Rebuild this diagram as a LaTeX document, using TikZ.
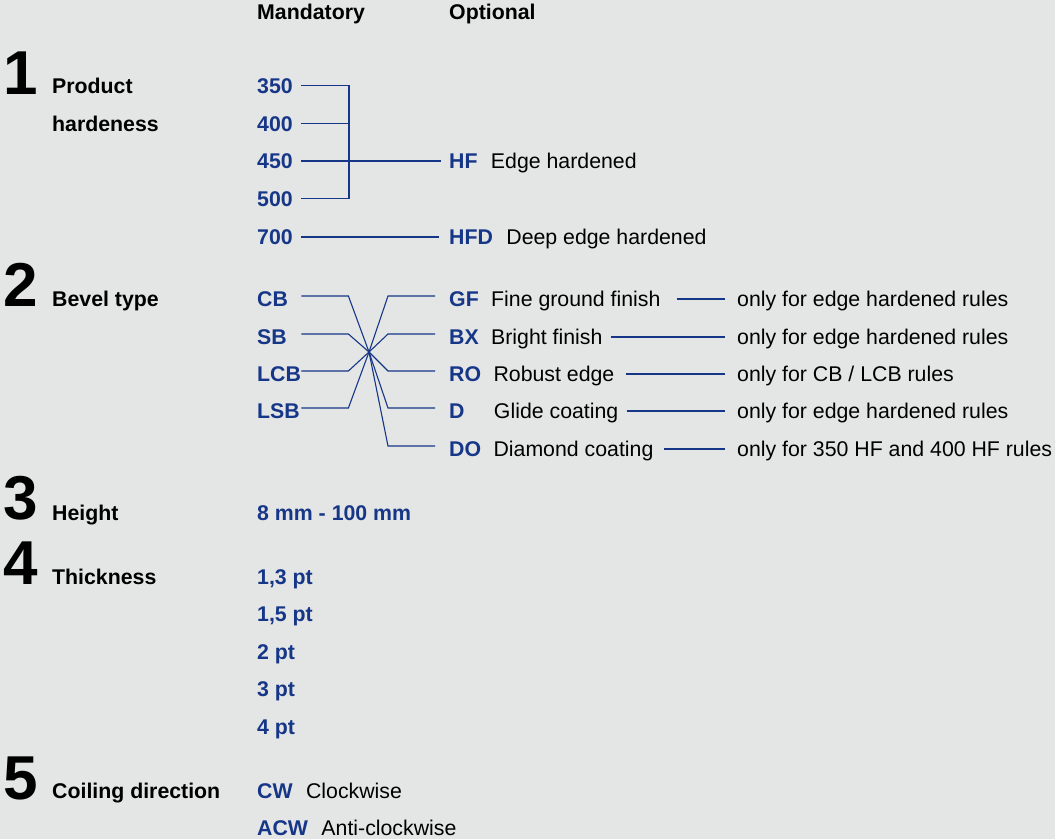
\documentclass[tikz,border=0pt]{standalone}
\usepackage{fontspec}
\setmainfont{Liberation Sans}
\usetikzlibrary{positioning}
\definecolor{rulerblue}{RGB}{22,54,136}
\definecolor{paper}{RGB}{228,229,229}

\begin{document}
\begin{tikzpicture}[x=1pt,y=-1pt,
  txt/.style={anchor=base west,inner sep=0pt,text height=15pt,text depth=0pt,font=\fontsize{21.3}{25}\selectfont},
  num/.style={anchor=base west,inner sep=0pt,font=\fontsize{62}{62}\selectfont\bfseries},
  lab/.style={txt,font=\fontsize{21.3}{25}\selectfont\bfseries},
  mand/.style={lab,text=rulerblue,text width=44pt,align=left},
  opt/.style={lab,text=rulerblue},
  desc/.style={txt},
  tall/.style={text height=21pt},
  link/.style={draw=rulerblue,line width=1.1pt}]
  \fill[paper] (0,0) rectangle (1055,839);
  \useasboundingbox (0,0) rectangle (1055,839);

  \node[lab] (mandhead) at (257,19) {Mandatory};
  \node[lab] (opthead)  at (449,19) {Optional};

  % 1 product hardness
  \node[num] (n1) at (3,94) {1};
  \node[lab] (hard1) at (52,93)  {Product};
  \node[lab] (hard2) at (52,131) {hardeness};
  \node[mand] (m350) at (257,93)    {350};
  \node[mand] (m400) at (257,131)   {400};
  \node[mand] (m450) at (257,168.5) {450};
  \node[mand] (m500) at (257,206)   {500};
  \node[mand] (m700) at (257,244.5) {700};
  \node[opt] (hf)  at (449,168.5) {HF};
  \node[desc,base right=13pt of hf] (hftext) {Edge hardened};
  \node[opt] (hfd) at (449,244.5) {HFD};
  \node[desc,base right=13pt of hfd] (hfdtext) {Deep edge hardened};
  \coordinate (hj) at (349,161);
  \draw[link] (m350.east) -| (hj) |- (m500.east);
  \draw[link] (m400.east) -- (m400.east -| hj);
  \draw[link,shorten >=8pt] (m450.east) -- (hf.west);
  \draw[link,shorten >=10pt] (m700.east) -- (hfd.west);

  % 2 bevel type
  \node[num] (n2) at (3,306) {2};
  \node[lab] (bevel) at (52,306.5) {Bevel type};
  \node[mand,tall] (cb)  at (257,306.5) {CB};
  \node[mand,tall] (sb)  at (257,344.5) {SB};
  \node[mand,tall] (lcb) at (257,381.5) {LCB};
  \node[mand,tall] (lsb) at (257,418.5) {LSB};
  \node[opt,tall] (gf) at (449,306.5) {GF};
  \node[opt,tall] (bx) at (449,344.5) {BX};
  \node[opt,tall] (ro) at (449,381.5) {RO};
  \node[opt,tall] (gc) at (449,418.5) {D};
  \node[opt,tall] (dc) at (449,456.5) {DO};
  \node[desc,base right=12pt of gf] (gftext) {Fine ground finish};
  \node[desc,base right=12pt of bx] (bxtext) {Bright finish};
  \node[desc,base right=12pt of ro] (rotext) {Robust edge};
  \node[desc,base right=29pt of gc] (gctext) {Glide coating};
  \node[desc,base right=12pt of dc] (dctext) {Diamond coating};
  \node[desc] (gfnote) at (737,306.5) {only for edge hardened rules};
  \node[desc] (bxnote) at (737,344.5) {only for edge hardened rules};
  \node[desc] (ronote) at (737,381.5) {only for CB / LCB rules};
  \node[desc] (gcnote) at (737,418.5) {only for edge hardened rules};
  \node[desc] (dcnote) at (737,456.5) {only for 350 HF and 400 HF rules};
  \coordinate (cross) at (369,352);
  \draw[link] (cb.east)  -- ++(47,0) -- (cross);
  \draw[link] (sb.east)  -- ++(47,0) -- (cross);
  \draw[link] (lcb.east) -- ++(47,0) -- (cross);
  \draw[link] (lsb.east) -- ++(47,0) -- (cross);
  \draw[link,shorten >=14pt] (cross) -- ([xshift=-61pt]gf.west) -- (gf.west);
  \draw[link,shorten >=14pt] (cross) -- ([xshift=-61pt]bx.west) -- (bx.west);
  \draw[link,shorten >=14pt] (cross) -- ([xshift=-61pt]ro.west) -- (ro.west);
  \draw[link,shorten >=14pt] (cross) -- ([xshift=-61pt]gc.west) -- (gc.west);
  \draw[link,shorten >=14pt] (cross) -- ([xshift=-61pt]dc.west) -- (dc.west);
  \draw[link,shorten <=16pt,shorten >=12pt] (gftext.east) -- (gfnote.west);
  \draw[link,shorten <=8pt,shorten >=12pt] (bxtext.east) -- (bxnote.west);
  \draw[link,shorten <=11pt,shorten >=12pt] (rotext.east) -- (ronote.west);
  \draw[link,shorten <=8pt,shorten >=12pt] (gctext.east) -- (gcnote.west);
  \draw[link,shorten <=10pt,shorten >=12pt] (dctext.east) -- (dcnote.west);

  % 3 height
  \node[num] (n3) at (3,519) {3};
  \node[lab] (height) at (52,520) {Height};
  \node[opt] (hrange) at (257,520) {8 mm - 100 mm};

  % 4 thickness
  \node[num] (n4) at (3,584) {4};
  \node[lab] (thick) at (52,584) {Thickness};
  \node[opt] (t13) at (257,584)   {1,3 pt};
  \node[opt] (t15) at (257,621.5) {1,5 pt};
  \node[opt] (t2)  at (257,659)   {2 pt};
  \node[opt] (t3)  at (257,696.5) {3 pt};
  \node[opt] (t4)  at (257,734)   {4 pt};

  % 5 coiling direction
  \node[num] (n5) at (3,799) {5};
  \node[lab] (coil) at (52,798) {Coiling direction};
  \node[opt] (cw)  at (257,798) {CW};
  \node[desc,base right=13pt of cw] (cwtext) {Clockwise};
  \node[opt] (acw) at (257,835) {ACW};
  \node[desc,base right=13pt of acw] (acwtext) {Anti-clockwise};
\end{tikzpicture}
\end{document}
